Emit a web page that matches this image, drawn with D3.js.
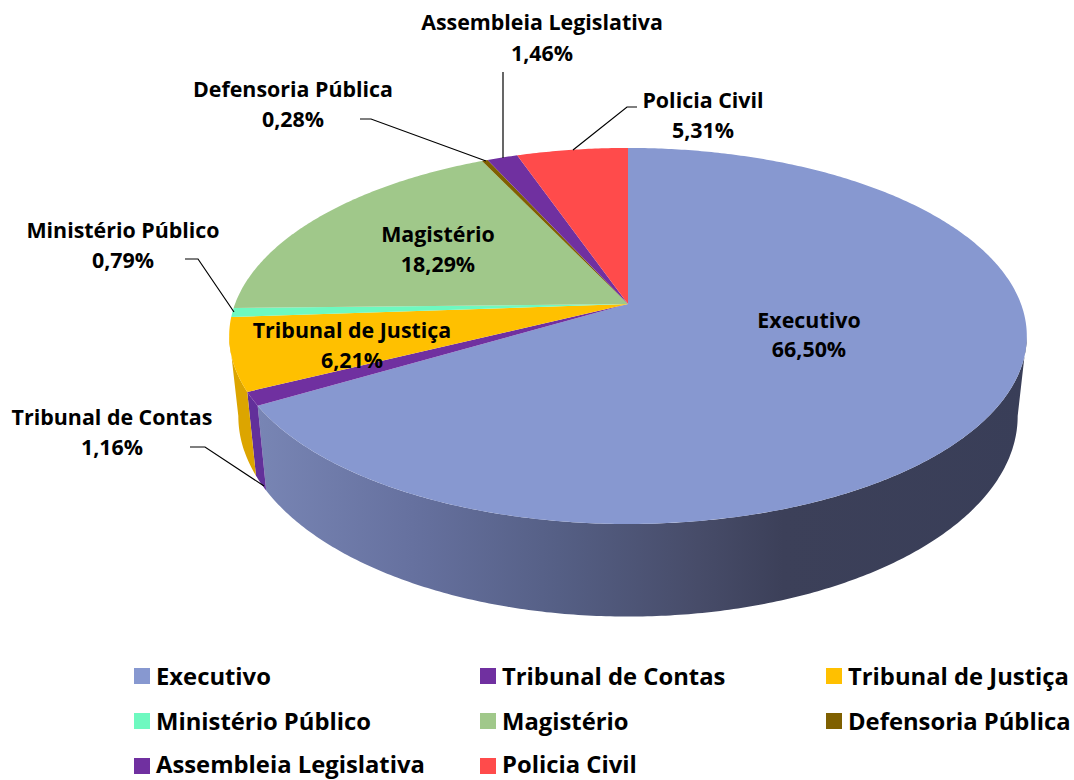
<!DOCTYPE html>
<html>
<head>
<meta charset="utf-8">
<style>
  body { margin: 0; background: #fff; }
  svg { display: block; }
  text { font-family: "Open Sans", sans-serif; font-weight: 700; fill: #000; }
</style>
<script src="https://cdn.jsdelivr.net/npm/d3@7"></script>
</head>
<body>
<svg></svg>
<script>
var categories = ["Executivo", "Tribunal de Contas", "Tribunal de Justiça", "Ministério Público",
                  "Magistério", "Defensoria Pública", "Assembleia Legislativa", "Policia Civil"];
var values = [66.50, 1.16, 6.21, 0.79, 18.29, 0.28, 1.46, 5.31];
var percentLabels = ["66,50%", "1,16%", "6,21%", "0,79%", "18,29%", "0,28%", "1,46%", "5,31%"];

var colors = ["#8798d0", "#7030a0", "#ffc000", "#6ef9c0", "#a0c88a", "#7f6000", "#7030a0", "#ff4b4b"];
var wallColors = [null, "#62309a", "#dca500", null, null, null, null, null];

var width = 1074;
var height = 780;

var svg = d3.select("svg")
        .attr("width", width)
        .attr("height", height);

// perspective circle, top rim and bottom rim of the pie
var topRim = { x: 628, y: 304, b: 393, a: 182.6, p: 0.17 };
var lowRim = { x: 628, y: 382, b: 384, a: 194.7, p: 0.17 };

var project = function(rim, angle){
  var u = Math.sin(angle);
  var v = Math.cos(angle);
  var w = 1 + rim.p * v;
  return [rim.x + rim.b * u / w, rim.y - rim.a * v / w];
};

var arcPoints = function(rim, start, end){
  var steps = Math.max(2, Math.ceil((end - start) / 0.01));
  return d3.range(steps + 1).map(function(i){
    return project(rim, start + (end - start) * i / steps);
  });
};

var pie = d3.pie().sort(null).value(function(d){ return d; });
var slices = pie(values);

var line = d3.line();

// side of the Executivo slice fades from the left to the right
var defs = svg.append("defs");
var wallGradient = defs.append("linearGradient")
        .attr("id", "wallGradient")
        .attr("gradientUnits", "userSpaceOnUse")
        .attr("x1", 258).attr("x2", 1030)
        .attr("y1", 0).attr("y2", 0);
var wallStops = [[0, "#7885b4"], [0.2, "#66719f"], [0.39, "#555f85"], [0.57, "#474c69"], [0.68, "#3c4059"], [1, "#393e58"]];
wallGradient.selectAll("stop")
  .data(wallStops)
  .enter()
  .append("stop")
  .attr("offset", function(d){ return d[0]; })
  .attr("stop-color", function(d){ return d[1]; });

// the wall runs between the two widest points of the rim
var wallStart = Math.acos(-topRim.p);
var wallEnd = 2 * Math.PI - wallStart;

var walls = slices.filter(function(d){
  return d.endAngle > wallStart && d.startAngle < wallEnd && d.index < 3;
});

svg.selectAll("path.wall")
  .data(walls)
  .enter()
  .append("path")
  .attr("class", "wall")
  .attr("d", function(d){
    var start = Math.max(d.startAngle, wallStart);
    var end = Math.min(d.endAngle, wallEnd);
    var pts = arcPoints(topRim, start, end).concat(arcPoints(lowRim, start, end).reverse());
    return line(pts) + "Z";
  })
  .attr("fill", function(d){
    return d.index == 0 ? "url(#wallGradient)" : wallColors[d.index];
  });

svg.selectAll("path.slice")
  .data(slices)
  .enter()
  .append("path")
  .attr("class", "slice")
  .attr("d", function(d){
    var pts = [[topRim.x, topRim.y]].concat(arcPoints(topRim, d.startAngle, d.endAngle));
    return line(pts) + "Z";
  })
  .attr("fill", function(d, i){ return colors[i]; });

// leader lines go from the labels to the rim
var leaderLines = [
  null,
  [[190, 447], [205, 447], [264, 486]],
  null,
  [[185, 259], [198, 259], [234, 312]],
  null,
  [[360, 119], [371, 119], [486, 161]],
  [[503, 72], [503, 158]],
  [[637, 107], [627, 107], [573, 150]]
];

svg.selectAll("path.leader")
  .data(leaderLines.filter(function(d){ return d; }))
  .enter()
  .append("path")
  .attr("class", "leader")
  .attr("d", line)
  .attr("fill", "none")
  .attr("stroke", "#000")
  .attr("stroke-width", 1.2);

var labelPos = [[809, 320], [112, 417], [352, 330], [123, 230], [438, 234], [293, 89], [542, 22], [703, 100]];
var labelGap = [29, 30, 30, 30, 30, 30, 31, 30];

var labels = svg.selectAll("g.label")
  .data(categories)
  .enter()
  .append("g")
  .attr("class", "label")
  .attr("text-anchor", "middle")
  .attr("font-size", 21.4);

labels.append("text")
  .attr("x", function(d, i){ return labelPos[i][0]; })
  .attr("y", function(d, i){ return labelPos[i][1] + 8; })
  .text(function(d){ return d; });

labels.append("text")
  .attr("x", function(d, i){ return labelPos[i][0]; })
  .attr("y", function(d, i){ return labelPos[i][1] + labelGap[i] + 8; })
  .text(function(d, i){ return percentLabels[i]; });

// legend, three columns
var legendX = d3.scaleOrdinal().domain([0, 1, 2]).range([134, 480, 826]);
var legendY = d3.scaleOrdinal().domain([0, 1, 2]).range([676, 721, 766]);

var legend = svg.selectAll("g.legend")
  .data(categories)
  .enter()
  .append("g")
  .attr("class", "legend")
  .attr("transform", function(d, i){
    return "translate(" + legendX(i % 3) + "," + legendY(Math.floor(i / 3)) + ")";
  });

legend.append("rect")
  .attr("x", 0)
  .attr("y", -8)
  .attr("width", 16)
  .attr("height", 16)
  .attr("fill", function(d, i){ return colors[i]; });

// last row sits a bit higher so the descenders stay on the page
legend.append("text")
  .attr("x", 22)
  .attr("y", function(d, i){ return i >= 6 ? 7 : 9; })
  .attr("font-size", 23.8)
  .text(function(d){ return d; });
</script>
</body>
</html>
